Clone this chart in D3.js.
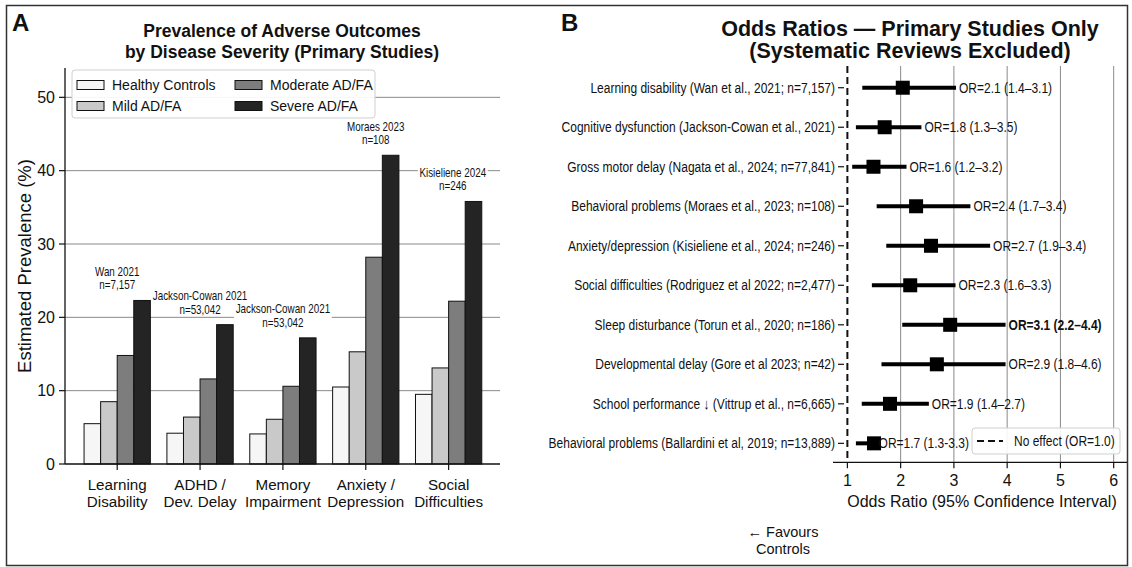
<!DOCTYPE html>
<html><head><meta charset="utf-8">
<script src="https://cdn.jsdelivr.net/npm/d3@7"></script>
<style>
html,body{margin:0;padding:0;background:#fff;}
svg{display:block;font-family:"Liberation Sans",Arial,Helvetica,sans-serif;}
</style></head>
<body>
<svg id="c" width="1132" height="567"></svg>
<script>
// ---------- Panel A data ----------
const categories = [["Learning","Disability"],["ADHD /","Dev. Delay"],["Memory","Impairment"],["Anxiety /","Depression"],["Social","Difficulties"]];
const severityGroups = ["Healthy Controls","Mild AD/FA","Moderate AD/FA","Severe AD/FA"];
const healthy  = [5.5, 4.2, 4.1, 10.5, 9.5];
const mild     = [8.5, 6.4, 6.1, 15.3, 13.1];
const moderate = [14.8, 11.6, 10.6, 28.2, 22.2];
const severe   = [22.3, 19.0, 17.2, 42.1, 35.8];
const yTicksA  = [0, 10, 20, 30, 40, 50];
const annotCategory = [0, 1, 2, 3, 4];
const annotLine1 = ["Wan 2021","Jackson-Cowan 2021","Jackson-Cowan 2021","Moraes 2023","Kisieliene 2024"];
const annotLine2 = ["n=7,157","n=53,042","n=53,042","n=108","n=246"];

// ---------- Panel B data ----------
const studies = [
  "Learning disability (Wan et al., 2021; n=7,157)",
  "Cognitive dysfunction (Jackson-Cowan et al., 2021)",
  "Gross motor delay (Nagata et al., 2024; n=77,841)",
  "Behavioral problems (Moraes et al., 2023; n=108)",
  "Anxiety/depression (Kisieliene et al., 2024; n=246)",
  "Social difficulties (Rodriguez et al 2022; n=2,477)",
  "Sleep disturbance (Torun et al., 2020; n=186)",
  "Developmental delay (Gore et al 2023; n=42)",
  "School performance \u2193 (Vittrup et al., n=6,665)",
  "Behavioral problems (Ballardini et al, 2019; n=13,889)"
];
const orPoint = [2.04, 1.70, 1.49, 2.29, 2.57, 2.18, 2.93, 2.68, 1.80, 1.50];
const ciLow   = [1.28, 1.16, 1.09, 1.55, 1.73, 1.46, 2.03, 1.64, 1.27, 1.16];
const ciHigh  = [3.04, 2.39, 2.11, 3.31, 3.68, 3.03, 3.97, 3.97, 2.53, 1.53];
const orLabels = [
  "OR=2.1 (1.4\u20133.1)","OR=1.8 (1.3\u20133.5)","OR=1.6 (1.2\u20133.2)","OR=2.4 (1.7\u20133.4)",
  "OR=2.7 (1.9\u20133.4)","OR=2.3 (1.6\u20133.3)","OR=3.1 (2.2\u20134.4)","OR=2.9 (1.8\u20134.6)",
  "OR=1.9 (1.4\u20132.7)","OR=1.7 (1.3-3.3)"
];
const boldLabel = [false,false,false,false,false,false,true,false,false,false];
const xTicksB = [1, 2, 3, 4, 5, 6];

// ---------- drawing ----------
const svg = d3.select("#c");
const barColors = ["#f6f6f6","#c9c9c9","#7d7d7d","#242424"];
const series = [healthy, mild, moderate, severe];

svg.append("rect").attr("x",6.5).attr("y",5.5).attr("width",1121).attr("height",560)
  .attr("fill","none").attr("stroke","#333").attr("stroke-width",1.5);

// ===== Panel A =====
const xA = d3.scaleLinear().domain([-0.63, 4.62]).range([65, 500]);
const yA = d3.scaleLinear().domain([0, 54]).range([464, 68]);
const bw = 0.2;
const gA = svg.append("g");

gA.selectAll("line.grid").data(yTicksA.filter(d=>d>0)).join("line")
  .attr("x1",xA.range()[0]).attr("x2",xA.range()[1])
  .attr("y1",d=>yA(d)).attr("y2",d=>yA(d))
  .attr("stroke","#8a8a8a").attr("stroke-width",1);

const annLayer = gA.append("g");
const barLayer = gA.append("g");
series.forEach((vals, s) => {
  barLayer.selectAll(null).data(vals).join("rect")
    .attr("x",(d,i)=>xA(i + (s-2)*bw))
    .attr("width",xA(bw)-xA(0))
    .attr("y",d=>yA(d)).attr("height",d=>yA(0)-yA(d))
    .attr("fill",barColors[s]).attr("stroke","#111").attr("stroke-width",1);
});

const nudge = [0, 0, 0, 0.12, 0.05];
const annTextLayer = gA.append("g");
annotCategory.forEach((c,k)=>{
  const cx = xA(c + nudge[k]);
  const yb = yA(severe[c] + 2.1);
  const t = annTextLayer.append("g").attr("transform",`translate(${cx},0) scale(0.8,1)`);
  t.append("text").attr("x",0).attr("y",yb-13.5).attr("text-anchor","middle").attr("dominant-baseline","central")
    .attr("font-size",12.3).attr("fill","#111").text(annotLine1[k]);
  t.append("text").attr("x",0).attr("y",yb).attr("text-anchor","middle").attr("dominant-baseline","central")
    .attr("font-size",12.3).attr("fill","#111").text(annotLine2[k]);
  const bb = t.node().getBBox();
  annLayer.append("g").attr("transform",`translate(${cx},0) scale(0.8,1)`)
    .append("rect").attr("x",bb.x-2).attr("y",bb.y+1).attr("width",bb.width+4).attr("height",bb.height-2)
    .attr("fill","#fff");
});

gA.append("line").attr("x1",65).attr("x2",65).attr("y1",yA(54)).attr("y2",yA(0)).attr("stroke","#111").attr("stroke-width",1.3);
gA.append("line").attr("x1",65).attr("x2",500).attr("y1",yA(0)).attr("y2",yA(0)).attr("stroke","#111").attr("stroke-width",1.3);
yTicksA.forEach(v=>{
  gA.append("line").attr("x1",59).attr("x2",65).attr("y1",yA(v)).attr("y2",yA(v)).attr("stroke","#111").attr("stroke-width",1.2);
  gA.append("text").attr("x",55).attr("y",yA(v)).attr("text-anchor","end").attr("dominant-baseline","central")
    .attr("font-size",16).attr("fill","#111").text(v);
});
categories.forEach((lab,i)=>{
  gA.append("line").attr("x1",xA(i)).attr("x2",xA(i)).attr("y1",yA(0)).attr("y2",yA(0)+6).attr("stroke","#111").attr("stroke-width",1.2);
  lab.forEach((l,j)=>{
    gA.append("text").attr("x",xA(i)).attr("y",490+j*17).attr("text-anchor","middle")
      .attr("font-size",15.2).attr("fill","#111").text(l);
  });
});
gA.append("text").attr("transform",`translate(24,${(yA(54)+yA(0))/2}) rotate(-90)`)
  .attr("text-anchor","middle").attr("dominant-baseline","central").attr("font-size",18.5).attr("fill","#111")
  .text("Estimated Prevalence (%)");

["Prevalence of Adverse Outcomes","by Disease Severity (Primary Studies)"].forEach((t,j)=>{
  gA.append("text").attr("x",282).attr("y",37+j*20.5).attr("text-anchor","middle")
    .attr("font-size",17.5).attr("font-weight","bold").attr("fill","#111").text(t);
});
svg.append("text").attr("x",12).attr("y",31).attr("font-size",24).attr("font-weight","bold").attr("fill","#111").text("A");

const legA = gA.append("g");
legA.append("rect").attr("x",72).attr("y",70).attr("width",303).attr("height",48).attr("rx",3)
  .attr("fill","#fff").attr("fill-opacity",0.92).attr("stroke","#cfcfcf");
severityGroups.forEach((name,s)=>{
  const colIdx = (s===0||s===1)?0:1;
  const rowIdx = (s===0||s===2)?0:1;
  const px = colIdx===0?77:235;
  const cy = rowIdx===0?85:106;
  legA.append("rect").attr("x",px).attr("y",cy-4.5).attr("width",27).attr("height",9)
    .attr("fill",barColors[s]).attr("stroke","#111").attr("stroke-width",1);
  legA.append("text").attr("x",px+35).attr("y",cy).attr("dominant-baseline","central")
    .attr("font-size",14).attr("fill","#111").text(name);
});

// ===== Panel B =====
const xB = d3.scaleLinear().domain([0.73, 6.25]).range([833, 1127]);
const yB = d3.scaleLinear().domain([-0.55, 9.48]).range([66, 462.3]);
const gB = svg.append("g");
gB.selectAll(null).data(xTicksB.filter(d=>d>1)).join("line")
  .attr("x1",d=>xB(d)).attr("x2",d=>xB(d)).attr("y1",yB.range()[0]).attr("y2",yB.range()[1])
  .attr("stroke","#8a8a8a").attr("stroke-width",1);
gB.append("line").attr("x1",xB(1)).attr("x2",xB(1)).attr("y1",yB.range()[0]).attr("y2",yB.range()[1])
  .attr("stroke","#111").attr("stroke-width",2).attr("stroke-dasharray","7,4");
gB.selectAll(null).data(studies).join("line")
  .attr("x1",(d,i)=>xB(ciLow[i])).attr("x2",(d,i)=>xB(ciHigh[i]))
  .attr("y1",(d,i)=>yB(i)).attr("y2",(d,i)=>yB(i))
  .attr("stroke","#000").attr("stroke-width",4);
const sq = 14;
gB.selectAll(null).data(studies).join("rect")
  .attr("x",(d,i)=>xB(orPoint[i])-sq/2).attr("y",(d,i)=>yB(i)-sq/2)
  .attr("width",sq).attr("height",sq).attr("fill","#000");
studies.forEach((s,i)=>{
  const g = gB.append("g").attr("transform",`translate(${xB(ciHigh[i])+3},${yB(i)}) scale(0.8,1)`);
  g.append("text").attr("dominant-baseline","central").attr("font-size",15)
    .attr("font-weight",boldLabel[i]?"bold":"normal").attr("fill","#111").text(orLabels[i]);
  const g2 = gB.append("g").attr("transform",`translate(835,${yB(i)}) scale(0.8,1)`);
  g2.append("text").attr("dominant-baseline","central").attr("text-anchor","end")
    .attr("font-size",15).attr("fill","#111").text(s);
  gB.append("line").attr("x1",838).attr("x2",844).attr("y1",yB(i)).attr("y2",yB(i)).attr("stroke","#111").attr("stroke-width",1.2);
});
gB.append("line").attr("x1",833).attr("x2",1127).attr("y1",yB.range()[1]).attr("y2",yB.range()[1]).attr("stroke","#111").attr("stroke-width",1.3);
xTicksB.forEach(v=>{
  gB.append("line").attr("x1",xB(v)).attr("x2",xB(v)).attr("y1",yB.range()[1]).attr("y2",yB.range()[1]+6).attr("stroke","#111").attr("stroke-width",1.2);
  gB.append("text").attr("x",xB(v)).attr("y",486).attr("text-anchor","middle").attr("font-size",16).attr("fill","#111").text(v);
});
gB.append("text").attr("x",982).attr("y",507).attr("text-anchor","middle").attr("font-size",16).attr("fill","#111")
  .text("Odds Ratio (95% Confidence Interval)");
["\u2190 Favours","Controls"].forEach((t,j)=>{
  gB.append("text").attr("x",783).attr("y",537+j*16.5).attr("text-anchor","middle").attr("font-size",14.5).attr("fill","#111").text(t);
});
gB.append("rect").attr("x",972).attr("y",428).attr("width",148).attr("height",26).attr("rx",3)
  .attr("fill","#fff").attr("fill-opacity",0.9).attr("stroke","#cfcfcf");
gB.append("line").attr("x1",977).attr("x2",1003).attr("y1",441).attr("y2",441).attr("stroke","#111").attr("stroke-width",2).attr("stroke-dasharray","7,4");
const lg = gB.append("g").attr("transform","translate(1014,441) scale(0.8,1)");
lg.append("text").attr("dominant-baseline","central").attr("font-size",15).attr("fill","#111").text("No effect (OR=1.0)");
["Odds Ratios \u2014 Primary Studies Only","(Systematic Reviews Excluded)"].forEach((t,j)=>{
  gB.append("text").attr("x",910).attr("y",36+j*22).attr("text-anchor","middle")
    .attr("font-size",21.5).attr("font-weight","bold").attr("fill","#111").text(t);
});
svg.append("text").attr("x",561).attr("y",31).attr("font-size",24).attr("font-weight","bold").attr("fill","#111").text("B");
</script>
</body></html>
